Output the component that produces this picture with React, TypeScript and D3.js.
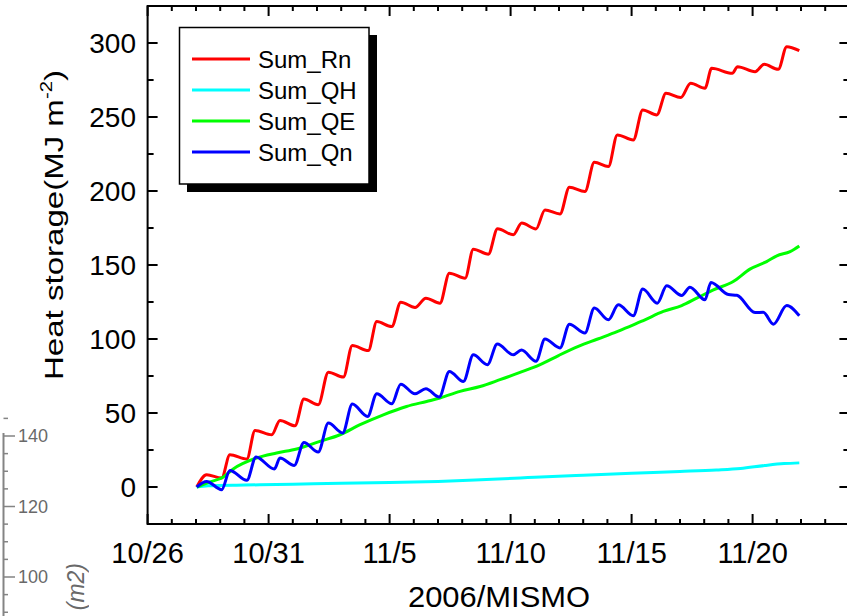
import React from "react";
import * as d3 from "d3";

// days since 10/26 00:00 (2006), value in MJ m^-2
const sumRn: [number, number][] = [
  [2.03, 0], [2.44, 8.3], [3.06, 6.1], [3.4, 21.8], [4.1, 18.9], [4.44, 38.2], [5.13, 35.3],
  [5.47, 45], [6.09, 41.4], [6.46, 59.4], [7.05, 55.6], [7.47, 77.6], [8.09, 74.3], [8.46, 95.6],
  [9.12, 92.2], [9.47, 111.8], [10.09, 108.4], [10.46, 124.9], [11.05, 121.3], [11.5, 127.6],
  [12.08, 124.2], [12.47, 144.5], [13.12, 141.1], [13.46, 160.7], [14.08, 157.3], [14.46, 174.5],
  [15.11, 170.4], [15.46, 178.3], [16.05, 174.4], [16.42, 187.2], [17.04, 184.5], [17.43, 202.6],
  [18.07, 199.6], [18.46, 219.4], [19.04, 216.5], [19.41, 237.9], [20.07, 234.5], [20.46, 254.8],
  [21.04, 251.4], [21.42, 266], [22.03, 263.1], [22.44, 272.8], [23.03, 269.4], [23.31, 282.9],
  [24.16, 279.5], [24.38, 284], [25.1, 280.6], [25.48, 285.6], [26.06, 282.2], [26.41, 297.5],
  [26.93, 294.8],
];

const sumQH: [number, number][] = [
  [2.03, 0], [2.5, 0.8], [4, 1.3], [6, 1.9], [8, 2.5], [10, 3.0], [12, 3.8], [14, 5.1],
  [15.4, 6.1], [16, 6.6], [18, 8.0], [20, 9.3], [22, 10.5], [23.5, 11.5], [24.5, 12.5],
  [25.5, 14.5], [26.3, 15.8], [26.93, 16.3],
];

const sumQE: [number, number][] = [
  [2.03, 0], [2.5, 3], [3.13, 6.8], [3.54, 12.2], [4.5, 19.6], [5.33, 23], [6.16, 25.7],
  [7.12, 30.8], [7.95, 35.3], [8.78, 42.1], [9.74, 48.8], [10.7, 54.4], [11.53, 57.8],
  [12.08, 60.1], [12.91, 64.6], [13.74, 67.9], [14.56, 72.5], [15.39, 77.4], [16.2, 82.5],
  [17.0, 89], [17.8, 95], [18.6, 100], [19.4, 105], [20.0, 109], [20.55, 113], [21.31, 118.6],
  [22.07, 122.6], [22.69, 127.6], [23.38, 133.2], [24.2, 138.8], [24.89, 147.2], [25.58, 152.3],
  [26.0, 156.2], [26.55, 159.1], [26.93, 162.9],
];

const sumQn: [number, number][] = [
  [2.03, 0], [2.44, 3.8], [3.06, -1.8], [3.4, 11.2], [4.1, 4.5], [4.48, 20.3], [5.24, 12.2],
  [5.47, 19.6], [6.06, 14.6], [6.46, 30.1], [7.05, 23.6], [7.47, 43.2], [8.06, 36.5],
  [8.46, 56], [9.09, 47.7], [9.47, 63], [10.09, 56.2], [10.46, 69.5], [11.05, 63], [11.5, 66.4],
  [12.05, 60.8], [12.47, 78.1], [13.05, 71.3], [13.46, 89.3], [14.04, 82.6], [14.45, 96.6],
  [15.11, 89.3], [15.45, 92.5], [16.05, 85], [16.42, 100], [17.04, 94], [17.43, 110],
  [18.07, 104], [18.46, 121], [19.04, 113], [19.45, 123.1], [20.07, 115.7], [20.46, 133.7],
  [21.06, 124.2], [21.45, 135.9], [22.07, 129.4], [22.41, 135], [23.03, 126.5], [23.28, 138.2],
  [24.0, 130], [24.35, 129.5], [25.1, 117.9], [25.44, 118], [25.86, 110], [26.41, 122.6],
  [26.93, 115.7],
];

const seriesNames = ["Sum_Rn", "Sum_QH", "Sum_QE", "Sum_Qn"];
const seriesColors = ["#ff0000", "#00ffff", "#00ff00", "#0000ff"];
const seriesData = [sumRn, sumQH, sumQE, sumQn];

const xTickDays = [0, 5, 10, 15, 20, 25];
const xTickLabels = ["10/26", "10/31", "11/5", "11/10", "11/15", "11/20"];
const yTickValues = [0, 50, 100, 150, 200, 250, 300];

const ghostTicks = [140, 120, 100];

const FONT = "'Liberation Sans', Arial, Helvetica, sans-serif";

export default function App() {
  const left = 147.6, right = 849.4, top = 6, bottom = 524;
  const x = d3.scaleLinear().domain([0, 29]).range([left, right]);
  const y = d3.scaleLinear().domain([-25, 325]).range([bottom, top]);
  const line = d3
    .line<[number, number]>()
    .x((d) => x(d[0]))
    .y((d) => y(d[1]))
    .curve(d3.curveMonotoneX);

  const dayTicks = d3.range(0, 30);
  const yMinor = d3.range(-25, 326, 25);

  // ghost axis (leftover from a neighbouring figure)
  const gy = d3.scaleLinear().domain([100, 140]).range([577, 436]);
  const ghostMinor = d3.range(80, 146, 5);

  return (
    <svg
      width={847}
      height={616}
      style={{ position: "absolute", left: 0, top: 0, background: "#fff" }}
      fontFamily={FONT}
    >
      <rect x={0} y={0} width={847} height={616} fill="#fff" />

      {/* ghost axis */}
      <g opacity={0.8}>
        <line x1={3.5} x2={3.5} y1={433} y2={616} stroke="#666" strokeWidth={2} />
        {ghostMinor.map((v) => (
          <line
            key={"gm" + v}
            x1={3.5}
            x2={v % 20 === 0 ? 15 : 8}
            y1={gy(v)}
            y2={gy(v)}
            stroke="#666"
            strokeWidth={1.5}
          />
        ))}
        {ghostTicks.map((v) => (
          <text key={"gt" + v} x={18} y={gy(v)} dy="0.36em" fontSize={18} fill="#444">
            {v}
          </text>
        ))}
        <text
          transform="translate(84,563) rotate(-90)"
          textAnchor="end"
          fontSize={23}
          fontStyle="italic"
          fill="#444"
        >
          (m2)
        </text>
      </g>

      {/* data lines */}
      {seriesData.map((s, i) => (
        <path
          key={seriesNames[i]}
          d={line(s) || ""}
          fill="none"
          stroke={seriesColors[i]}
          strokeWidth={3}
          strokeLinejoin="round"
        />
      ))}

      {/* frame */}
      <rect
        x={left}
        y={top}
        width={right - left}
        height={bottom - top}
        fill="none"
        stroke="#000"
        strokeWidth={2}
      />

      {/* x ticks (bottom + top, inward) */}
      {dayTicks.map((d) => {
        const len = d % 5 === 0 ? 10 : 5;
        return (
          <g key={"xt" + d}>
            <line x1={x(d)} x2={x(d)} y1={bottom} y2={bottom - len} stroke="#000" strokeWidth={2} />
            <line x1={x(d)} x2={x(d)} y1={top} y2={top + len} stroke="#000" strokeWidth={2} />
          </g>
        );
      })}
      {xTickDays.map((d, i) => (
        <text key={"xl" + d} x={x(d)} y={563} textAnchor="middle" fontSize={29} fill="#000">
          {xTickLabels[i]}
        </text>
      ))}

      {/* y ticks (left + right, inward) */}
      {yMinor.map((v) => {
        const len = v % 50 === 0 ? 10 : 6;
        return (
          <g key={"yt" + v}>
            <line x1={left} x2={left + len} y1={y(v)} y2={y(v)} stroke="#000" strokeWidth={2} />
            <line x1={right} x2={right - len} y1={y(v)} y2={y(v)} stroke="#000" strokeWidth={2} />
          </g>
        );
      })}
      {yTickValues.map((v) => (
        <text key={"yl" + v} x={136} y={y(v)} dy="0.36em" textAnchor="end" fontSize={28} fill="#000">
          {v}
        </text>
      ))}

      {/* axis titles */}
      <text x={499} y={607} textAnchor="middle" fontSize={30} fill="#000" textLength={182} lengthAdjust="spacingAndGlyphs">
        2006/MISMO
      </text>
      <text
        transform="translate(63,225) rotate(-90)"
        textAnchor="middle"
        fontSize={26}
        fill="#000"
        textLength={310}
        lengthAdjust="spacingAndGlyphs"
      >
        Heat storage(MJ m<tspan dy={-11} fontSize={16}>-2</tspan>
        <tspan dy={11}>)</tspan>
      </text>

      {/* legend */}
      <rect x={187} y={35} width={190} height={157} fill="#000" />
      <rect x={179.5} y={27.5} width={189.5} height={156.5} fill="#fff" stroke="#000" strokeWidth={1.5} />
      {seriesNames.map((n, i) => {
        const ly = 59 + i * 31;
        return (
          <g key={"lg" + n}>
            <line x1={192} x2={250} y1={ly} y2={ly} stroke={seriesColors[i]} strokeWidth={3} />
            <text x={258} y={ly} dy="0.38em" fontSize={24} fill="#000">
              {n}
            </text>
          </g>
        );
      })}
    </svg>
  );
}
